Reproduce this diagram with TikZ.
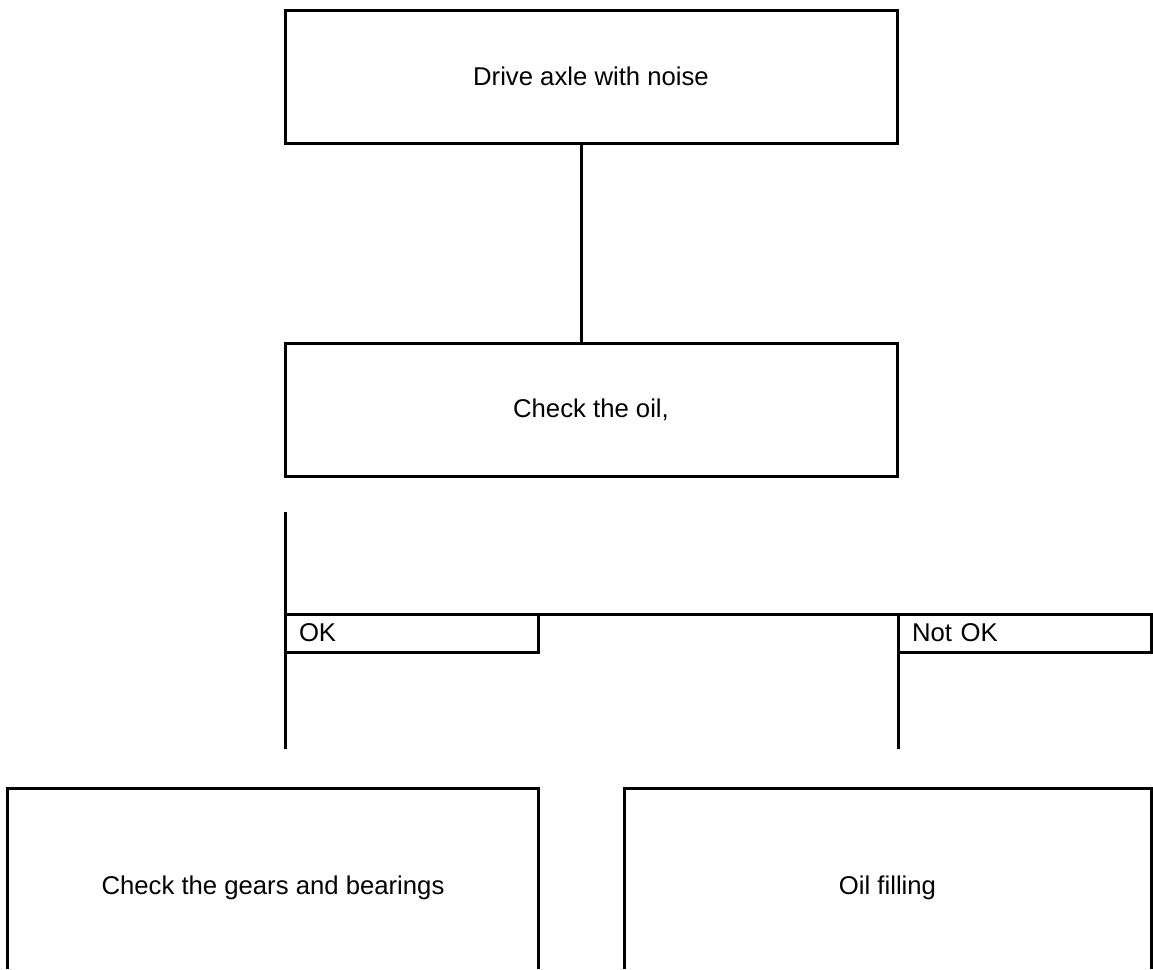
\documentclass[tikz,border=0pt]{standalone}
\usepackage{fontspec}
\setmainfont{Liberation Sans}
\begin{document}
\begin{tikzpicture}[x=1pt,y=-1pt,
  every node/.style={font=\fontsize{25.7}{30}\selectfont,outer sep=0pt},
  line/.style={line width=3pt},
  bigbox/.style={draw,line width=3pt,rectangle,inner sep=0pt,minimum width=612pt,minimum height=133pt},
  lowbox/.style={rectangle,inner sep=0pt},
  labelbox/.style={draw,line width=3pt,rectangle,inner xsep=14pt,inner ysep=0pt,minimum height=38pt,text width=225pt,align=left,anchor=north west}]
\useasboundingbox (0,0) rectangle (1153,969);
\node[bigbox] (top) at (591,76.5) {Drive axle with noise};
\node[bigbox] (check) at (591,409.5) {Check the oil,};
\draw[line] ([xshift=-10pt]top.south) -- ([xshift=-10pt]check.north);
\node[labelbox] (ok) at (285,614) {OK};
\node[labelbox] (notok) at (898,614) {Not OK};
\coordinate (splitTop) at (285,512);
\coordinate (okEnd) at (285,749);
\coordinate (notEnd) at (898,749);
\draw[line] (splitTop) -- (okEnd);
\draw[line] (ok.north west) -- (notok.north west);
\draw[line] (notok.north west) -- (notEnd);
\node[lowbox,minimum width=531pt,minimum height=200pt] (gears) at (273,888) {Check the gears and bearings};
\node[lowbox,minimum width=527pt,minimum height=200pt] (oil) at (887.5,888) {Oil filling};
\draw[line] (gears.north west |- 0,969) -- (gears.north west) -- (gears.north east) -- (gears.north east |- 0,969);
\draw[line] (oil.north west |- 0,969) -- (oil.north west) -- (oil.north east) -- (oil.north east |- 0,969);
\end{tikzpicture}
\end{document}
